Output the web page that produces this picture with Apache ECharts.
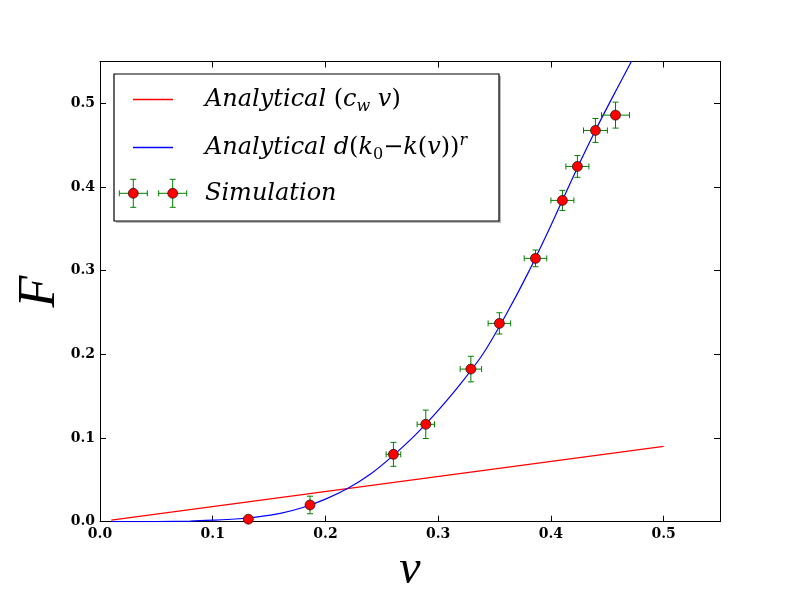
<!DOCTYPE html>
<html>
<head>
<meta charset="utf-8">
<script src="https://cdn.jsdelivr.net/npm/echarts@6/dist/echarts.min.js"></script>
<style>
html, body { margin: 0; padding: 0; background: #fff; }
#graphics { width: 800px; height: 600px; }
</style>
</head>
<body>
<div id="graphics"></div>
<script>
// Simulation points (v, F) with error bars
const simV    = [0.1316, 0.1863, 0.2603, 0.2890, 0.3290, 0.3543, 0.3863, 0.4102, 0.4235, 0.4395, 0.4573];
const simF    = [0.0030, 0.0200, 0.0805, 0.1164, 0.1824, 0.2370, 0.3147, 0.3840, 0.4246, 0.4676, 0.4859];
const simVErr = [0.0020, 0.0030, 0.0065, 0.0077, 0.0095, 0.0100, 0.0100, 0.0102, 0.0102, 0.0106, 0.0124];
const simFErr = [0.0020, 0.0105, 0.0143, 0.0170, 0.0153, 0.0127, 0.0100, 0.0120, 0.0130, 0.0143, 0.0155];

// Analytical (c_w v): straight line
const linV = [0.01, 0.5];
const linF = [0.0018, 0.09];

// Analytical d(k0 - k(v))^r, sampled from the curve
const curveV = [0.01, 0.05, 0.08, 0.10, 0.12, 0.14, 0.16, 0.18, 0.20, 0.22, 0.24, 0.26,
                0.28, 0.30, 0.32, 0.34, 0.36, 0.38, 0.40, 0.42, 0.44, 0.46, 0.48, 0.50];
const curveF = [0.0, 0.0002, 0.0008, 0.0018, 0.0032, 0.0058, 0.010, 0.017, 0.027, 0.040, 0.057, 0.079,
                0.104, 0.133, 0.165, 0.201, 0.247, 0.298, 0.354, 0.413, 0.469, 0.521, 0.572, 0.622];

const serif = 'Liberation Serif';
const legendSerif = 'DejaVu Serif';
const tickFont = { fontFamily: 'DejaVu Serif', fontWeight: 'bold', fontSize: 14, color: '#000' };

function zip(a, b) { return a.map((v, i) => [v, b[i]]); }

// error bars with caps, drawn through the axes
function renderErrorBars(params, api) {
    const v = api.value(0), f = api.value(1), dv = api.value(2), df = api.value(3);
    const c = api.coord([v, f]);
    const xl = api.coord([v - dv, f])[0], xr = api.coord([v + dv, f])[0];
    const yl = api.coord([v, f - df])[1], yh = api.coord([v, f + df])[1];
    const cap = 3;
    const st = { stroke: '#008000', lineWidth: 1 };
    return {
        type: 'group',
        children: [
            { type: 'line', shape: { x1: xl, y1: c[1], x2: xr, y2: c[1] }, style: st },
            { type: 'line', shape: { x1: c[0], y1: yl, x2: c[0], y2: yh }, style: st },
            { type: 'line', shape: { x1: xl, y1: c[1] - cap, x2: xl, y2: c[1] + cap }, style: st },
            { type: 'line', shape: { x1: xr, y1: c[1] - cap, x2: xr, y2: c[1] + cap }, style: st },
            { type: 'line', shape: { x1: c[0] - cap, y1: yl, x2: c[0] + cap, y2: yl }, style: st },
            { type: 'line', shape: { x1: c[0] - cap, y1: yh, x2: c[0] + cap, y2: yh }, style: st }
        ]
    };
}

// legend marker: red dot with green error cross
function legendMarker(x, y) {
    const st = { stroke: '#008000', lineWidth: 1 };
    const h = 14, cap = 3;
    return [
        { type: 'line', shape: { x1: x - h, y1: y, x2: x + h, y2: y }, style: st },
        { type: 'line', shape: { x1: x, y1: y - h, x2: x, y2: y + h }, style: st },
        { type: 'line', shape: { x1: x - h, y1: y - cap, x2: x - h, y2: y + cap }, style: st },
        { type: 'line', shape: { x1: x + h, y1: y - cap, x2: x + h, y2: y + cap }, style: st },
        { type: 'line', shape: { x1: x - cap, y1: y - h, x2: x + cap, y2: y - h }, style: st },
        { type: 'line', shape: { x1: x - cap, y1: y + h, x2: x + cap, y2: y + h }, style: st },
        { type: 'circle', shape: { cx: x, cy: y, r: 5 }, style: { fill: '#ff0000', stroke: '#000', lineWidth: 0.6 } }
    ];
}

const legendRich = {
    i: { fontFamily: legendSerif, fontStyle: 'italic', fontSize: 24, lineHeight: 30, verticalAlign: 'middle' },
    n: { fontFamily: legendSerif, fontSize: 24, lineHeight: 30, verticalAlign: 'middle' },
    sub: { fontFamily: legendSerif, fontStyle: 'italic', fontSize: 16, lineHeight: 12, verticalAlign: 'bottom' },
    subn: { fontFamily: legendSerif, fontSize: 16, lineHeight: 12, verticalAlign: 'bottom' },
    sup: { fontFamily: legendSerif, fontStyle: 'italic', fontSize: 16, lineHeight: 8, verticalAlign: 'top' }
};

function legendText(x, y, text) {
    return {
        type: 'text', x: x, y: y,
        style: { text: text, rich: legendRich, fill: '#000', verticalAlign: 'middle', align: 'left' }
    };
}

var myChart = echarts.init(document.getElementById('graphics'));

var option = {
    animation: false,
    backgroundColor: '#fff',
    grid: { left: 100, right: 80, top: 61.5, bottom: 78.3, outerBoundsMode: 'none' },
    xAxis: [{
        type: 'value', min: 0, max: 0.55, interval: 0.1,
        name: 'v', nameLocation: 'middle', nameGap: 24,
        nameTextStyle: { fontFamily: serif, fontStyle: 'italic', fontSize: 48, color: '#000' },
        axisLine: { onZero: false, lineStyle: { color: '#000', width: 1 } },
        axisTick: { inside: true, length: 6, lineStyle: { color: '#000' } },
        axisLabel: Object.assign({ margin: 6, showMaxLabel: false, formatter: v => v.toFixed(1) }, tickFont),
        splitLine: { show: false }
    }, {
        type: 'value', min: 0, max: 0.55, interval: 0.1, position: 'top',
        axisLine: { onZero: false, lineStyle: { color: '#000', width: 1 } },
        axisTick: { inside: true, length: 6, lineStyle: { color: '#000' } },
        axisLabel: { show: false },
        splitLine: { show: false }
    }],
    yAxis: [{
        type: 'value', min: 0, max: 0.55, interval: 0.1,
        name: 'F', nameLocation: 'middle', nameGap: 34, nameRotate: 90, nameMoveOverlap: false,
        nameTextStyle: { fontFamily: serif, fontStyle: 'italic', fontSize: 52, color: '#000' },
        axisLine: { onZero: false, lineStyle: { color: '#000', width: 1 } },
        axisTick: { inside: true, length: 6, lineStyle: { color: '#000' } },
        axisLabel: Object.assign({ margin: 5, showMaxLabel: false, formatter: v => v.toFixed(1) }, tickFont),
        splitLine: { show: false }
    }, {
        type: 'value', min: 0, max: 0.55, interval: 0.1, position: 'right',
        axisLine: { onZero: false, lineStyle: { color: '#000', width: 1 } },
        axisTick: { inside: true, length: 6, lineStyle: { color: '#000' } },
        axisLabel: { show: false },
        splitLine: { show: false }
    }],
    series: [{
        name: 'Analytical (c_w v)',
        type: 'line',
        data: zip(linV, linF),
        showSymbol: false,
        lineStyle: { color: '#ff0000', width: 1.2 },
        z: 2
    }, {
        name: 'Analytical d(k0-k(v))^r',
        type: 'line',
        data: zip(curveV, curveF),
        smooth: 0.3,
        showSymbol: false,
        lineStyle: { color: '#0000ff', width: 1.2 },
        z: 3
    }, {
        name: 'Simulation errors',
        type: 'custom',
        renderItem: renderErrorBars,
        data: simV.map((v, i) => [v, simF[i], simVErr[i], simFErr[i]]),
        encode: { x: 0, y: 1 },
        clip: true,
        z: 4
    }, {
        name: 'Simulation',
        type: 'scatter',
        data: zip(simV, simF),
        symbol: 'circle',
        symbolSize: 10,
        itemStyle: { color: '#ff0000', borderColor: '#000', borderWidth: 0.6, opacity: 1 },
        z: 5
    }],
    graphic: [{
        type: 'group',
        z: 100,
        children: [
            { type: 'rect', shape: { x: 116, y: 76, width: 385, height: 147 }, style: { fill: '#bbb' } },
            { type: 'rect', shape: { x: 114, y: 74, width: 385, height: 147 }, style: { fill: '#fff', stroke: '#000', lineWidth: 1.2 } },
            { type: 'line', shape: { x1: 133, y1: 99.5, x2: 173, y2: 99.5 }, style: { stroke: '#ff0000', lineWidth: 1.5 } },
            { type: 'line', shape: { x1: 133, y1: 147.5, x2: 173, y2: 147.5 }, style: { stroke: '#0000ff', lineWidth: 1.5 } },
            legendText(205, 100, '{i|Analytical }{n|(}{i|c}{sub|w}{i| v}{n|)}'),
            legendText(205, 148, '{i|Analytical d}{n|(}{i|k}{subn|0}{n|\u2212}{i|k}{n|(}{i|v}{n|))}{sup|r}'),
            legendText(205, 194, '{i|Simulation}')
        ].concat(legendMarker(133.3, 193.3), legendMarker(172.7, 193.3))
    }]
};

myChart.setOption(option);
</script>
</body>
</html>
